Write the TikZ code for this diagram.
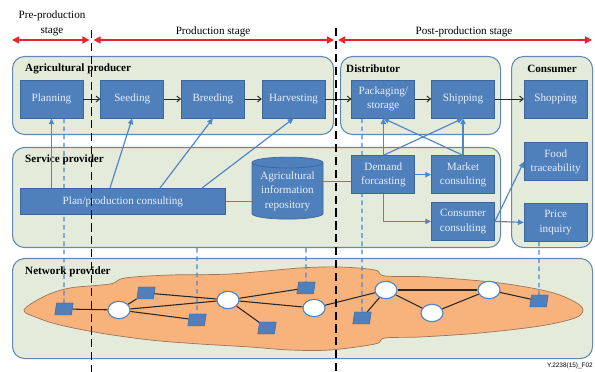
\documentclass[tikz,border=0pt]{standalone}
\usepackage{fontspec}
\setmainfont{Liberation Serif}
\newfontfamily\notefont{Liberation Sans}
\usetikzlibrary{positioning,shapes.geometric,arrows.meta}

\definecolor{panelfill}{HTML}{E4EBDA}
\definecolor{panelline}{HTML}{6189B6}
\definecolor{taskfill}{HTML}{4F80BC}
\definecolor{taskline}{HTML}{3C679E}
\definecolor{tasktext}{HTML}{E9EFF8}
\definecolor{linkblue}{HTML}{4F86C6}
\definecolor{cloudfill}{HTML}{F8B27C}
\definecolor{cloudline}{HTML}{9E7458}
\definecolor{stagered}{HTML}{E8262A}

\pgfdeclarelayer{panels}
\pgfdeclarelayer{guides}
\pgfsetlayers{panels,guides,main}

\tikzset{
  panel/.style={draw=panelline, fill=panelfill, line width=0.9pt, rounded corners=3.6mm, anchor=north west, inner sep=0pt},
  paneltitle/.style={anchor=west, inner sep=0pt, font=\bfseries\fontsize{9.5}{11}\selectfont},
  task/.style={draw=taskline, fill=taskfill, text=tasktext, line width=0.6pt, minimum width=18.9mm, minimum height=11.4mm, inner sep=1pt, align=center, font=\fontsize{9.5}{12.5}\selectfont},
  stagetext/.style={font=\fontsize{9.5}{13}\selectfont, align=center, inner sep=0pt},
  stagearrow/.style={draw=stagered, line width=1.3pt, {Triangle[length=6pt,width=6pt]}-{Triangle[length=6pt,width=6pt]}},
  stagecut/.style={draw=black, line width=1.1pt, dash pattern=on 7pt off 4pt},
  flow/.style={draw=black!85, line width=0.8pt, -{Straight Barb[length=3pt,width=5pt]}},
  link/.style={draw=linkblue, line width=1pt, -{Triangle[length=5pt,width=4.5pt]}},
  plainlink/.style={draw=linkblue, line width=1pt},
  guide/.style={draw=linkblue, line width=0.9pt, dash pattern=on 4pt off 3pt},
  router/.style={ellipse, draw=linkblue, fill=white, line width=1pt, minimum width=6.6mm, minimum height=5.2mm, inner sep=0pt},
  terminal/.style={draw=taskline, fill=taskfill, xslant=0.15, minimum width=5mm, minimum height=3.6mm, inner sep=0pt},
  wire/.style={draw=black!85, line width=0.9pt},
}

\begin{document}
\begin{tikzpicture}[x=0.3mm, y=-0.3mm]
\useasboundingbox (0,0) rectangle (595,372);

% Stages
\node [stagetext] (prelabel) at (52,23) {Pre-production\\stage};
\node [stagetext] (prodlabel) at (213,32) {Production stage};
\node [stagetext] (postlabel) at (464,32) {Post-production stage};
\coordinate (preL) at (12,40);
\coordinate (preR) at (89.5,40);
\coordinate (prodL) at (93.5,40);
\coordinate (prodR) at (334,40);
\coordinate (postL) at (338,40);
\coordinate (postR) at (592,40);
\draw [stagearrow] (preL) -- (preR);
\draw [stagearrow] (prodL) -- (prodR);
\draw [stagearrow] (postL) -- (postR);

% Panels
\begin{pgfonlayer}{panels}
\node [panel, minimum width=96.3mm, minimum height=23.4mm] (agri) at (12,56) {};
\node [panel, minimum width=48mm, minimum height=23.4mm] (distr) at (340,56) {};
\node [panel, minimum width=24.3mm, minimum height=57.3mm] (consumer) at (511,56) {};
\node [panel, minimum width=146.4mm, minimum height=30mm] (service) at (12,147) {};
\node [panel, minimum width=174mm, minimum height=30mm] (network) at (12,258) {};
% Orange cloud
\draw [fill=cloudfill, draw=cloudline, line width=0.6pt]
  plot [smooth cycle, tension=0.55] coordinates {
  (24,310) (45,296) (70,288) (110,284) (125,278) (170,275) (230,274)
  (300,268) (340,267) (375,270) (385,276) (430,277) (500,283) (550,292)
  (575,302) (583,310) (575,318) (540,326) (480,333) (420,337) (385,338)
  (375,344) (330,350) (290,350) (250,347) (200,344) (150,340) (100,333)
  (60,325) (38,318)};
\end{pgfonlayer}

\node [paneltitle] (agrititle) at (25,69) {Agricultural producer};
\node [paneltitle] (distrtitle) at (346,69) {Distributor};
\node [paneltitle, anchor=center] (consumertitle) at (552,69) {Consumer};
\node [paneltitle] (servicetitle) at (25,160) {Service provider};
\node [paneltitle] (networktitle) at (25,272) {Network provider};

% Production chain
\node [task] (plan) at (51.5,99) {Planning};
\node [task, right=5.1mm of plan] (seed) {Seeding};
\node [task, right=5.1mm of seed] (breed) {Breeding};
\node [task, right=5.1mm of breed] (harvest) {Harvesting};
\node [task, right=7.8mm of harvest] (pack) {Packaging/\\storage};
\node [task, right=4.8mm of pack] (ship) {Shipping};
\node [task, right=8.7mm of ship] (shop) {Shopping};

% Services
\node [task, anchor=north west, minimum width=61.5mm, minimum height=7.8mm] (consult) at (20,188) {Plan/production consulting};
\node [task, cylinder, shape border rotate=90, aspect=0.2, inner sep=0pt,
       font=\fontsize{9.5}{12.3}\selectfont,
       minimum width=21.3mm, minimum height=18.6mm] (repo) at (287.5,191) {Agricultural\\information\\repository};
\node [task, below=11.1mm of pack] (demand) {Demand\\forcasting};
\node [task, right=4.8mm of demand] (market) {Market\\consulting};
\node [task, below=2.4mm of market] (cconsult) {Consumer\\consulting};
\node [task, below=7.2mm of shop] (food) {Food\\traceability};
\node [task, below=6.6mm of food] (price) {Price\\inquiry};

% Network
\node [terminal] (term1) at (64,309) {};
\node [router] (hub1) at (119,310) {};
\node [terminal] (term2) at (146,293) {};
\node [terminal] (term3) at (197,320) {};
\node [router] (hub2) at (228,300) {};
\node [terminal] (term5) at (267,328) {};
\node [terminal] (term4) at (306,288) {};
\node [router] (hub3) at (314,308) {};
\node [router] (hub4) at (386,290) {};
\node [terminal] (term6) at (362,318) {};
\node [router] (hub5) at (432,313) {};
\node [router] (hub6) at (489,290) {};
\node [terminal] (term7) at (539,301) {};

\draw [wire] (term1) -- (hub1);
\draw [wire] (hub1) -- (term2);
\draw [wire] (term2) -- (hub2);
\draw [wire] (hub1) -- (hub2);
\draw [wire] (hub1) -- (term3);
\draw [wire] (hub2) -- (term4);
\draw [wire] (hub2) -- (term5);
\draw [wire] (hub2) -- (hub3);
\draw [wire] (hub3) -- (hub4);
\draw [wire] (hub4) -- (term6);
\draw [wire] (hub4) -- (hub5);
\draw [wire] (hub4) -- (hub6);
\draw [wire] (hub5) -- (hub6);
\draw [wire] (hub6) -- (term7);

% Guides down to the network
\begin{pgfonlayer}{guides}
\draw [guide] (term1 |- plan.south) -- (term1);
\draw [guide] (term3 |- service.south) -- (term3);
\draw [guide] (term4 |- service.south) -- (term4);
\draw [guide] (term6 |- pack.south) -- (term6);
\draw [guide] (term7 |- price.south) -- (term7);
\end{pgfonlayer}

% Flow
\draw [flow] (plan) -- (seed);
\draw [flow] (seed) -- (breed);
\draw [flow] (breed) -- (harvest);
\draw [flow] (harvest) -- (pack);
\draw [flow] (pack) -- (ship);
\draw [flow] (ship) -- (shop);

% Service links
\draw [link] (plan.south |- consult.north) -- (plan.south);
\draw [link] ([xshift=27mm]consult.north west) -- (seed.south);
\draw [link] ([xshift=42mm]consult.north west) -- (breed.south);
\draw [link] ([xshift=54.6mm]consult.north west) -- (harvest.south);
\draw [plainlink] (consult.east) -- (consult.east -| repo.west);
\coordinate (repotap) at ([yshift=-2.1mm]demand.west);
\draw [plainlink] (repotap -| repo.east) -- (repotap);
\draw [link] (demand.east) -- (market.west);
\draw [link] (demand.south) |- (cconsult.west);
\draw [link] (demand.north) -- (pack.south);
\draw [link] (demand.north) -- (ship.south);
\draw [link] (market.north) -- (pack.south);
\draw [link] (market.north) -- (ship.south);
\draw [link] (cconsult.east) -- (price.west);
\draw [link] (cconsult.east) -- (food.west);

% Stage borders
\coordinate (cut1top) at (91.5,30);
\coordinate (cut1bot) at (91.5,372);
\coordinate (cut2top) at (336,28);
\coordinate (cut2bot) at (336,372);
\draw [stagecut] (cut1top) -- (cut1bot);
\draw [stagecut] (cut2top) -- (cut2bot);

\node [anchor=east, inner sep=0pt, font=\notefont\fontsize{5.5}{6}\selectfont] (figid) at (593,366) {Y.2238(15)\_F02};

\end{tikzpicture}
\end{document}
